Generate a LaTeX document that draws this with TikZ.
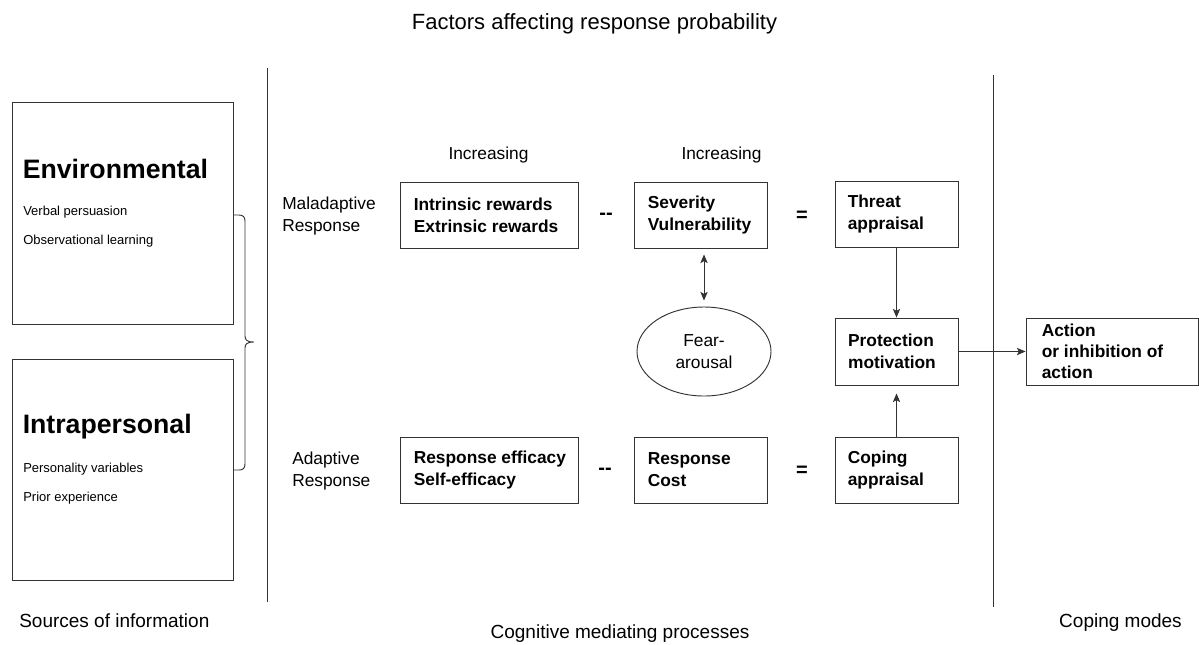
\documentclass[tikz,border=0pt]{standalone}
\usepackage{fontspec}
\setmainfont{Liberation Sans}
\usetikzlibrary{arrows.meta,shapes.geometric}
\begin{document}
\begin{tikzpicture}[x=0.75pt,y=-0.75pt,
  >={Stealth[length=6.5pt,width=5.5pt,inset=1.5pt]},
  line/.style={draw=black!80, line width=0.7pt},
  box/.style={line, rectangle, inner sep=0pt, minimum height=49.5pt},
  boxtext/.style={anchor=west, align=left, inner sep=0pt, font=\fontsize{13}{16.5}\selectfont\bfseries},
  plain/.style={inner sep=0pt, font=\fontsize{13}{16.5}\selectfont},
  small/.style={anchor=base west, inner sep=0pt, font=\fontsize{9.75}{12}\selectfont},
  big/.style={anchor=base west, inner sep=0pt, font=\fontsize{20}{24}\selectfont\bfseries},
  caption/.style={inner sep=0pt, font=\fontsize{14.25}{17}\selectfont},
  op/.style={inner sep=0pt, font=\fontsize{15}{18}\selectfont\bfseries},
  arr/.style={line, ->},
]
\useasboundingbox (0,0) rectangle (1199,644);

% title and column captions
\node[inner sep=0pt, anchor=base, font=\fontsize{16.5}{20}\selectfont] (title) at (594.5,29) {Factors affecting response probability};
\node[caption, anchor=base west] (src) at (19,627) {Sources of information};
\node[caption, anchor=base] (cog) at (620,638) {Cognitive mediating processes};
\node[caption, anchor=base east] (cop) at (1182,627) {Coping modes};

% column dividers
\coordinate (d1t) at (267,68);  \coordinate (d1b) at (267,602);
\coordinate (d2t) at (993,75);  \coordinate (d2b) at (993,607);
\draw[line] (d1t) -- (d1b);
\draw[line] (d2t) -- (d2b);

% sources of information
\node[line, rectangle, inner sep=0pt, minimum width=165.75pt, minimum height=166.5pt] (env) at (122.5,213) {};
\node[big] (envt) at (22.5,178) {Environmental};
\node[small] (vp) at (23,215) {Verbal persuasion};
\node[small] (ol) at (23,244) {Observational learning};

\node[line, rectangle, inner sep=0pt, minimum width=165.75pt, minimum height=165.75pt] (intra) at (122.5,469.5) {};
\node[big] (intrat) at (22.5,433) {Intrapersonal};
\node[small] (pv) at (23,472) {Personality variables};
\node[small] (pe) at (23,501) {Prior experience};

% curly bracket joining both sources
\draw[line] (233,215) -- (239,215) .. controls (243,215) and (245,217) .. (245,221)
  -- (245,336) .. controls (245,340) and (247,342) .. (254,342)
  .. controls (247,342) and (245,344) .. (245,348)
  -- (245,464) .. controls (245,468) and (243,470) .. (239,470) -- (233,470);

% column headings
\node[plain, anchor=base] (inc1) at (488.5,159) {Increasing};
\node[plain, anchor=base] (inc2) at (721.5,159) {Increasing};

% maladaptive row
\node[plain, anchor=west, align=left] (mal) at (282,216) {Maladaptive\\Response};
\node[box, minimum width=133.5pt] (rew) at (489,215) {};
\node[boxtext] (rewt) at ([xshift=10.5pt]rew.west) {Intrinsic rewards\\Extrinsic rewards};
\node[op] (minus1) at (606,216) {{-}{-}};
\node[box, minimum width=99.75pt] (sev) at (700.5,215) {};
\node[boxtext] (sevt) at ([xshift=10.5pt]sev.west) {Severity\\Vulnerability};
\node[op] (eq1) at (802,216) {=};
\node[box, minimum width=92.25pt] (threat) at (896.5,214) {};
\node[boxtext] (threatt) at ([xshift=9.75pt]threat.west) {Threat\\appraisal};

% fear arousal
\node[line, ellipse, inner sep=0pt, minimum width=100.5pt, minimum height=66.75pt, align=center, font=\fontsize{13}{16.5}\selectfont] (fear) at (704,351.5) {Fear-\\arousal};

% protection motivation and outcome
\node[box, minimum width=92.25pt, minimum height=50.25pt] (prot) at (896.5,351.5) {};
\node[boxtext] (prott) at ([xshift=10pt]prot.west) {Protection\\motivation};
\node[box, minimum width=129pt, minimum height=50.25pt] (action) at (1112,351.5) {};
\node[boxtext, font=\fontsize{13}{15.75}\selectfont\bfseries] (actiont) at ([xshift=12pt]action.west) {Action\\or inhibition of\\action};

% adaptive row
\node[plain, anchor=west, align=left] (ada) at (292,471) {Adaptive\\Response};
\node[box, minimum width=133.5pt] (eff) at (489,470) {};
\node[boxtext] (efft) at ([xshift=10.5pt]eff.west) {Response efficacy\\Self-efficacy};
\node[op] (minus2) at (605,471) {{-}{-}};
\node[box, minimum width=99.75pt] (cost) at (700.5,470) {};
\node[boxtext] (costt) at ([xshift=10.5pt]cost.west) {Response\\Cost};
\node[op] (eq2) at (802,471) {=};
\node[box, minimum width=92.25pt] (coping) at (896.5,470) {};
\node[boxtext] (copingt) at ([xshift=9.75pt]coping.west) {Coping\\appraisal};

% connectors
\draw[line, <->, shorten <=4.5pt, shorten >=4.5pt] (sev.south -| fear.north) -- (fear.north);
\draw[arr] (threat) -- (prot);
\draw[arr, shorten >=6pt] (coping) -- (prot);
\draw[arr] (prot) -- (action);
\end{tikzpicture}
\end{document}
